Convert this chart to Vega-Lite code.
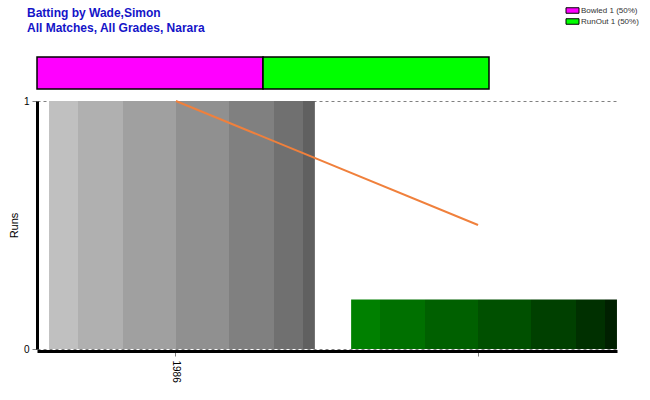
{
  "$schema": "https://vega.github.io/schema/vega-lite/v6.json",
  "padding": {"left": 8, "top": 5, "right": 8, "bottom": 4},
  "background": "white",
  "title": {
    "text": "Batting by Wade,Simon",
    "subtitle": "All Matches, All Grades, Narara",
    "anchor": "start",
    "frame": "group",
    "dx": -10,
    "offset": -30,
    "font": "Liberation Sans",
    "fontSize": 12,
    "fontWeight": "bold",
    "color": "#1414c8",
    "subtitleFont": "Liberation Sans",
    "subtitleFontSize": 12,
    "subtitleFontWeight": "bold",
    "subtitleColor": "#1414c8",
    "subtitlePadding": 3
  },
  "config": {
    "font": "Liberation Sans",
    "view": {"stroke": null},
    "axis": {
      "labelFont": "Liberation Sans",
      "titleFont": "Liberation Sans",
      "labelColor": "#000000",
      "titleColor": "#000000"
    }
  },
  "bounds": "flush",
  "spacing": 12,
  "vconcat": [
    {
      "width": 452,
      "height": 32,
      "data": {
        "values": [
          {"batsman": "Wade,Simon", "how": "Bowled", "count": 1, "label": "Bowled 1 (50%)"},
          {"batsman": "Wade,Simon", "how": "RunOut", "count": 1, "label": "RunOut 1 (50%)"}
        ]
      },
      "mark": {"type": "bar", "stroke": "#000000", "strokeWidth": 1.5},
      "encoding": {
        "x": {
          "field": "count",
          "type": "quantitative",
          "stack": "zero",
          "scale": {"domain": [0, 2], "nice": false},
          "axis": null
        },
        "y": {
          "field": "batsman",
          "type": "nominal",
          "scale": {"paddingInner": 0, "paddingOuter": 0},
          "axis": null
        },
        "order": {"field": "how"},
        "color": {
          "field": "label",
          "type": "nominal",
          "scale": {
            "domain": ["Bowled 1 (50%)", "RunOut 1 (50%)"],
            "range": ["#ff00ff", "#00ff00"]
          },
          "legend": {
            "title": null,
            "orient": "none",
            "legendX": 530,
            "legendY": -52,
            "symbolType": "M-1.3,-0.55H1.3V0.55H-1.3Z",
            "symbolSize": 100,
            "symbolStrokeColor": "#000000",
            "symbolStrokeWidth": 1,
            "symbolOpacity": 1,
            "labelFont": "Liberation Sans",
            "labelFontSize": 8,
            "labelColor": "#333333",
            "labelOffset": 3,
            "rowPadding": 0
          }
        }
      }
    },
    {
      "width": 580,
      "height": 248,
      "data": {
        "values": [
          {"season": "1986", "runs": 1, "trend": 1},
          {"season": " ", "runs": 0.2, "trend": 0.5}
        ]
      },
      "encoding": {
        "x": {
          "field": "season",
          "type": "nominal",
          "sort": null,
          "scale": {"paddingInner": 0.12, "paddingOuter": 0.02},
          "axis": {
            "title": null,
            "labelAngle": 90,
            "labelFontSize": 10,
            "labelPadding": 4,
            "tickColor": "#808080",
            "tickSize": 5,
            "domainColor": "#000000",
            "domainWidth": 3,
            "offset": 2
          }
        }
      },
      "layer": [
        {
          "transform": [{"filter": "datum.season == '1986'"}],
          "mark": {
            "type": "bar",
            "xOffset": 6,
            "color": {
              "gradient": "linear",
              "x1": 0, "y1": 0, "x2": 1, "y2": 0,
              "stops": [
                {"offset": 0, "color": "#c0c0c0"},
                {"offset": 0.109, "color": "#c0c0c0"},
                {"offset": 0.109, "color": "#b0b0b0"},
                {"offset": 0.278, "color": "#b0b0b0"},
                {"offset": 0.278, "color": "#a0a0a0"},
                {"offset": 0.477, "color": "#a0a0a0"},
                {"offset": 0.477, "color": "#909090"},
                {"offset": 0.677, "color": "#909090"},
                {"offset": 0.677, "color": "#808080"},
                {"offset": 0.846, "color": "#808080"},
                {"offset": 0.846, "color": "#707070"},
                {"offset": 0.955, "color": "#707070"},
                {"offset": 0.955, "color": "#606060"},
                {"offset": 1, "color": "#606060"}
              ]
            }
          },
          "encoding": {
            "y": {
              "field": "runs",
              "type": "quantitative",
              "scale": {"domain": [0, 1], "nice": false},
              "axis": {
                "title": "Runs",
                "titleFontSize": 11,
                "titleFontWeight": "normal",
                "titlePadding": 4,
                "values": [0, 1],
                "format": "d",
                "labelFontSize": 10,
                "labelPadding": 3,
                "grid": true,
                "gridColor": "#808080",
                "gridDash": [3, 3],
                "tickColor": "#808080",
                "tickSize": 5,
                "domainColor": "#000000",
                "domainWidth": 3
              }
            }
          }
        },
        {
          "transform": [{"filter": "datum.season == ' '"}],
          "mark": {
            "type": "bar",
            "xOffset": 6,
            "color": {
              "gradient": "linear",
              "x1": 0, "y1": 0, "x2": 1, "y2": 0,
              "stops": [
                {"offset": 0, "color": "#008000"},
                {"offset": 0.109, "color": "#008000"},
                {"offset": 0.109, "color": "#007000"},
                {"offset": 0.278, "color": "#007000"},
                {"offset": 0.278, "color": "#006000"},
                {"offset": 0.477, "color": "#006000"},
                {"offset": 0.477, "color": "#005000"},
                {"offset": 0.677, "color": "#005000"},
                {"offset": 0.677, "color": "#004000"},
                {"offset": 0.846, "color": "#004000"},
                {"offset": 0.846, "color": "#003000"},
                {"offset": 0.955, "color": "#003000"},
                {"offset": 0.955, "color": "#002000"},
                {"offset": 1, "color": "#002000"}
              ]
            }
          },
          "encoding": {
            "y": {"field": "runs", "type": "quantitative"}
          }
        },
        {
          "mark": {"type": "line", "color": "#f0803c", "strokeWidth": 2},
          "encoding": {
            "y": {"field": "trend", "type": "quantitative"}
          }
        }
      ]
    }
  ]
}
